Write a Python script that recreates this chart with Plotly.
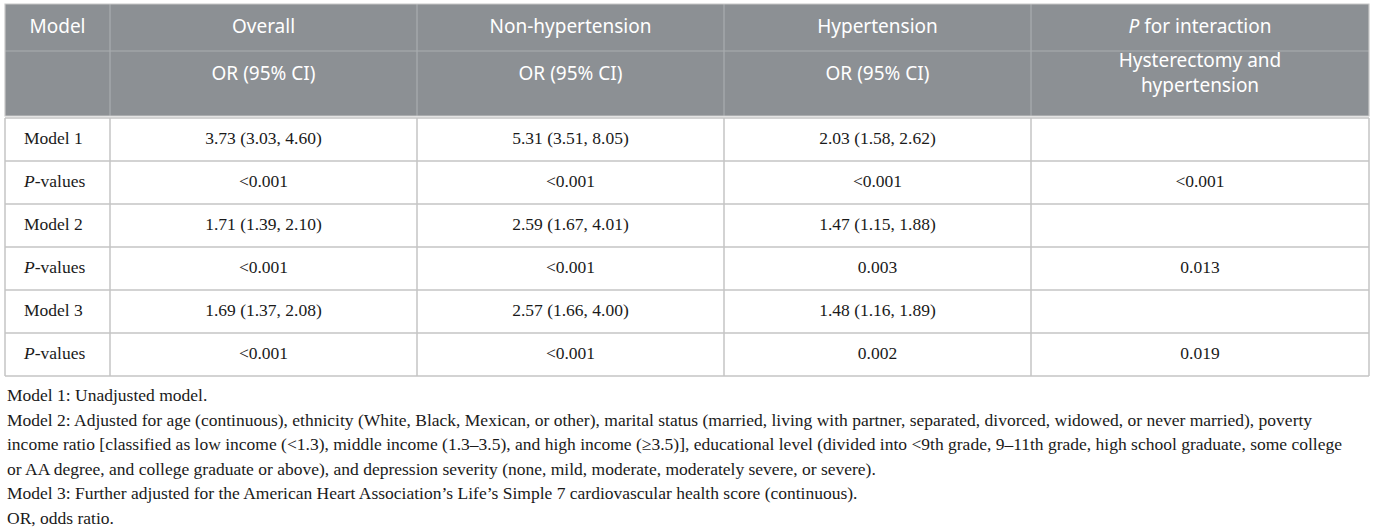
import plotly.graph_objects as go

W, H = 1375, 531

# Header labels (two header rows)
head_top = ["Model", "Overall", "Non-hypertension", "Hypertension", "<i>P</i> for interaction"]
head_sub = ["", "OR (95% CI)", "OR (95% CI)", "OR (95% CI)", "Hysterectomy and<br>hypertension"]

# Table body
models = ["Model 1", "<i>P</i>-values", "Model 2", "<i>P</i>-values", "Model 3", "<i>P</i>-values"]
overall = ["3.73 (3.03, 4.60)", "&lt;0.001", "1.71 (1.39, 2.10)", "&lt;0.001", "1.69 (1.37, 2.08)", "&lt;0.001"]
non_htn = ["5.31 (3.51, 8.05)", "&lt;0.001", "2.59 (1.67, 4.01)", "&lt;0.001", "2.57 (1.66, 4.00)", "&lt;0.001"]
htn = ["2.03 (1.58, 2.62)", "&lt;0.001", "1.47 (1.15, 1.88)", "0.003", "1.48 (1.16, 1.89)", "0.002"]
p_inter = ["", "&lt;0.001", "", "0.013", "", "0.019"]

# Footnotes
notes = [
    "Model 1: Unadjusted model.",
    "Model 2: Adjusted for age (continuous), ethnicity (White, Black, Mexican, or other), marital status (married, living with partner, separated, divorced, widowed, or never married), poverty",
    "income ratio [classified as low income (&lt;1.3), middle income (1.3–3.5), and high income (≥3.5)], educational level (divided into &lt;9th grade, 9–11th grade, high school graduate, some college",
    "or AA degree, and college graduate or above), and depression severity (none, mild, moderate, moderately severe, or severe).",
    "Model 3: Further adjusted for the American Heart Association’s Life’s Simple 7 cardiovascular health score (continuous).",
    "OR, odds ratio.",
]

# layout of the table (pixels)
x_left, y_top = 5, 4
col_w = [105, 307, 307, 307, 338]
head_h = [47, 65]
row_h = 43
gap = 2

col_edges = [x_left]
for w in col_w:
    col_edges.append(col_edges[-1] + w)
col_mid = [(a + b) / 2 for a, b in zip(col_edges[:-1], col_edges[1:])]

h1 = y_top + head_h[0]
h2 = h1 + head_h[1]
body_top = h2 + gap
row_edges = [body_top + row_h * k for k in range(len(models) + 1)]
row_mid = [(a + b) / 2 for a, b in zip(row_edges[:-1], row_edges[1:])]

HEAD_GREY = "#8c9094"
HEAD_LINE = "#a9adb0"
GRID = "#c4c4c4"
serif = "Liberation Serif, Times New Roman, serif"
sans = "Noto Sans, Open Sans, sans-serif"

fig = go.Figure()

# header background and lines
fig.add_shape(type="rect", x0=col_edges[0], x1=col_edges[-1], y0=y_top, y1=h2,
              fillcolor=HEAD_GREY, line_width=0, layer="below")
fig.add_shape(type="line", x0=col_edges[0], x1=col_edges[-1], y0=h1, y1=h1,
              line=dict(color=HEAD_LINE, width=1.2))
for xe in col_edges[1:-1]:
    fig.add_shape(type="line", x0=xe, x1=xe, y0=y_top, y1=h2,
                  line=dict(color=HEAD_LINE, width=1.2))

# body grid
for ye in row_edges:
    fig.add_shape(type="line", x0=col_edges[0], x1=col_edges[-1], y0=ye, y1=ye,
                  line=dict(color=GRID, width=1.5))
for xe in col_edges:
    fig.add_shape(type="line", x0=xe, x1=xe, y0=body_top, y1=row_edges[-1],
                  line=dict(color=GRID, width=1.5))
# outer frame of the header
fig.add_shape(type="rect", x0=col_edges[0], x1=col_edges[-1], y0=y_top, y1=h2,
              line=dict(color="#c8c8c8", width=1.2))

# header texts
fig.add_trace(go.Scatter(
    x=col_mid, y=[(y_top + h1) / 2 + 1] * len(head_top), text=head_top,
    mode="text", textposition="middle center",
    textfont=dict(family=sans, size=19, color="white"), hoverinfo="skip",
))
fig.add_trace(go.Scatter(
    x=col_mid, y=[h1 + 24] * len(head_sub), text=head_sub,
    mode="text", textposition="middle center",
    textfont=dict(family=sans, size=19, color="white"), hoverinfo="skip",
))

# body texts
fig.add_trace(go.Scatter(
    x=[col_edges[0] + 19] * len(models), y=row_mid, text=models,
    mode="text", textposition="middle right",
    textfont=dict(family=serif, size=17.5, color="#1a1a1a"), hoverinfo="skip",
))
for ci, col in enumerate([overall, non_htn, htn, p_inter], start=1):
    fig.add_trace(go.Scatter(
        x=[col_mid[ci]] * len(col), y=row_mid, text=col,
        mode="text", textposition="middle center",
        textfont=dict(family=serif, size=17.5, color="#1a1a1a"), hoverinfo="skip",
    ))

# footnotes
note_y0, note_dy = 395, 24.5
for i, line in enumerate(notes):
    fig.add_annotation(
        text=line, xref="x", yref="y", x=x_left, y=note_y0 + i * note_dy,
        xanchor="left", yanchor="middle", showarrow=False,
        font=dict(family=serif, size=17.5, color="#1a1a1a"),
    )

fig.update_layout(
    width=W, height=H,
    margin=dict(l=0, r=0, t=0, b=0),
    paper_bgcolor="white", plot_bgcolor="white",
    showlegend=False,
    xaxis=dict(range=[0, W], visible=False, fixedrange=True),
    yaxis=dict(range=[H, 0], visible=False, fixedrange=True),
)

fig.write_html("out.html", config={"displayModeBar": False},
               post_script="document.body.style.margin='0';")
